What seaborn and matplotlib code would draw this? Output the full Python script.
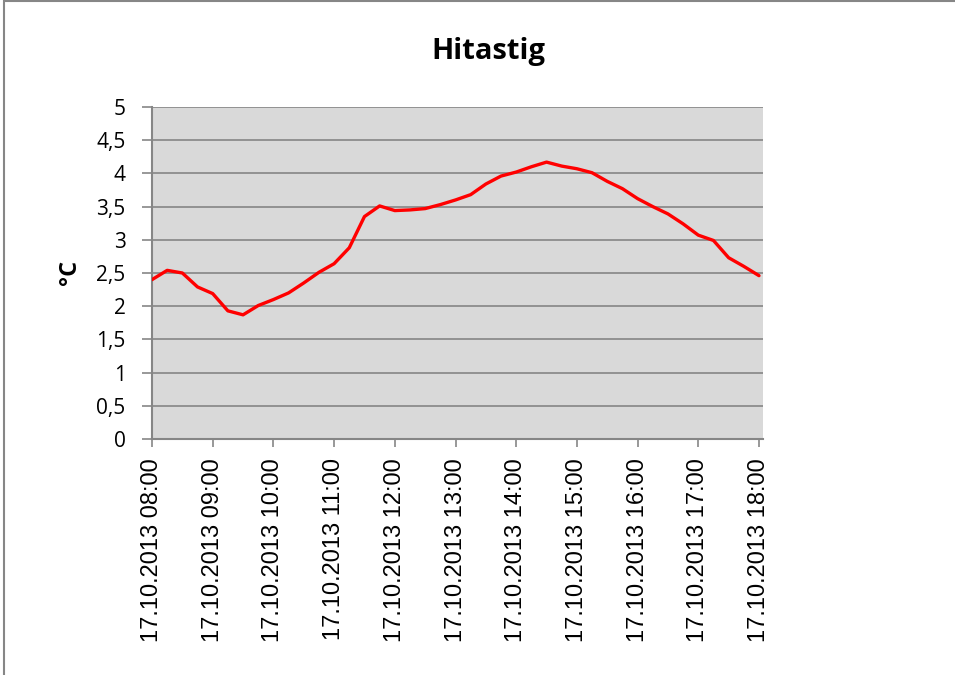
import matplotlib
matplotlib.use("Agg")
import matplotlib.pyplot as plt
import seaborn as sns
import pandas as pd
from matplotlib.patches import Rectangle

# Data: hours after 08:00 at 15-minute steps, temperature in °C
hours = [8.0, 8.25, 8.5, 8.75, 9.0, 9.25, 9.5, 9.75, 10.0, 10.25, 10.5, 10.75,
         11.0, 11.25, 11.5, 11.75, 12.0, 12.25, 12.5, 12.75, 13.0, 13.25, 13.5,
         13.75, 14.0, 14.25, 14.5, 14.75, 15.0, 15.25, 15.5, 15.75, 16.0, 16.25,
         16.5, 16.75, 17.0, 17.25, 17.5, 17.75, 18.0]
temps = [2.40, 2.54, 2.50, 2.29, 2.19, 1.93, 1.87, 2.01, 2.10, 2.20, 2.35, 2.51,
         2.64, 2.88, 3.35, 3.51, 3.44, 3.45, 3.47, 3.53, 3.60, 3.68, 3.84,
         3.96, 4.02, 4.10, 4.17, 4.11, 4.07, 4.01, 3.88, 3.77, 3.62, 3.50,
         3.39, 3.24, 3.07, 2.99, 2.73, 2.60, 2.46]
tick_hours = [8, 9, 10, 11, 12, 13, 14, 15, 16, 17, 18]
tick_labels = ["17.10.2013 %02d:00" % h for h in tick_hours]
y_ticks = [0, 0.5, 1, 1.5, 2, 2.5, 3, 3.5, 4, 4.5, 5]
y_labels = ["0", "0,5", "1", "1,5", "2", "2,5", "3", "3,5", "4", "4,5", "5"]
title = "Hitastig"
ylabel = "°C"

sns.set_style("white")
plt.rcParams['font.family'] = ['Open Sans', 'DejaVu Sans']
plt.rcParams['text.color'] = 'black'
plt.rcParams['axes.labelcolor'] = 'black'

gray = "#868686"
fig = plt.figure(figsize=(9.55, 6.75), dpi=100)
ax = fig.add_axes([152/955, 1-439/675, (763-152)/955, (439-107)/675])
ax.set_facecolor("#d9d9d9")

df = pd.DataFrame({"t": hours, "v": temps})
sns.lineplot(data=df, x="t", y="v", ax=ax, color="#ff0000", linewidth=2.4, zorder=3)
for ln in ax.lines:
    ln.set_solid_joinstyle("round")
    ln.set_solid_capstyle("round")

ax.set_xlim(8, 8 + (763-152)/60.7)
ax.set_ylim(0, 5)
ax.set_yticks(y_ticks)
ax.set_yticklabels(y_labels, fontsize=15)
ax.set_xticks(tick_hours)
ax.set_xticklabels(tick_labels, rotation=90, fontsize=17, family=['Liberation Sans'])
ax.set_xlabel("")
ax.set_ylabel(ylabel, fontsize=17, fontweight="bold", color="black")
ax.yaxis.set_label_coords(-0.115, 0.503)

ax.grid(axis="y", color=gray, linewidth=1.2, zorder=1)
ax.grid(axis="x", visible=False)
ax.set_axisbelow(True)
for s in ["top", "right"]:
    ax.spines[s].set_visible(False)
for s in ["left", "bottom"]:
    ax.spines[s].set_color(gray)
    ax.spines[s].set_linewidth(1.5)
ax.tick_params(axis="y", direction="out", length=7, width=1.2, color=gray,
               labelcolor="black", pad=12, left=True)
ax.tick_params(axis="x", direction="out", length=6, width=1.2, color=gray,
               labelcolor="black", pad=8, bottom=True)

fig.text(488/955, 1-52/675, title, ha="center", va="center", fontsize=21,
         fontweight="bold", color="black", family=['Open Sans', 'DejaVu Sans'])

fig.patches.append(Rectangle((4/955, -0.1), 1.2, 1.1 - 1.5/675, transform=fig.transFigure,
                             fill=False, edgecolor=gray, linewidth=1.5))

fig.savefig("out.png", dpi=100)
